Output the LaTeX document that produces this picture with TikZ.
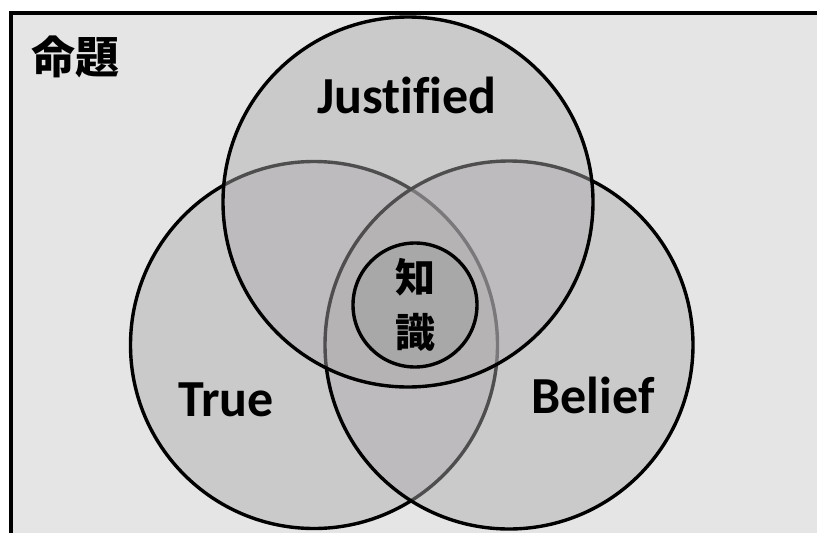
\documentclass[tikz,border=0pt]{standalone}
\usepackage{fontspec}
\setmainfont{Noto Sans CJK JP}
\newfontfamily\latinlbl{Carlito}[Ligatures={NoCommon}]
\definecolor{bg}{RGB}{229,229,229}
\definecolor{vennfill}{RGB}{174,171,173}
\definecolor{corefill}{RGB}{168,168,168}
\begin{document}
\begin{tikzpicture}[x=1pt,y=-1pt,
  venn/.style={circle, draw=black, line width=3.4pt, fill=vennfill, fill opacity=0.46, inner sep=0pt},
  core/.style={circle, draw=black, line width=3.4pt, fill=corefill, inner sep=0pt, minimum size=124pt},
  lbl/.style={font=\latinlbl\fontsize{52}{56}\selectfont\bfseries, inner sep=0pt, text=black}]
\useasboundingbox (0,0) rectangle (817,533);
\fill[white] (0,0) rectangle (817,533);
\clip (0,0) rectangle (817,533);
\draw[line width=4.5pt, fill=bg] (11,13) rectangle (850,570);
\node[venn, minimum size=367pt] (tru) at (314,345) {};
\node[venn, minimum size=368pt] (bel) at (509,345) {};
\node[venn, minimum size=370pt] (jus) at (408,202) {};
\node[core] (kno) at (415,305) {};
\node[font=\fontsize{40}{55}\selectfont\bfseries, align=center, inner sep=0pt] (knotxt) at (kno.center) {知\\識};
\node[font=\fontsize{44}{48}\selectfont\bfseries, inner sep=0pt] (prop) at (75,57) {命題};
\node[lbl] (jtxt) at (407,95) {Justified};
\node[lbl] (ttxt) at (226,400) {True};
\node[lbl] (btxt) at (593,395) {Belief};
\end{tikzpicture}
\end{document}
